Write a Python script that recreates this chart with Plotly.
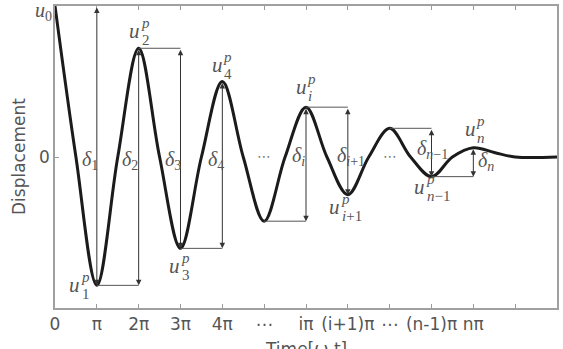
import plotly.graph_objects as go

# ---------------- data (time in multiples of pi, displacement normalised by u0) -------------
time_pi = [0, 0.5, 1, 1.5, 2, 2.5, 3, 3.5, 4, 4.5, 5, 5.5, 6, 6.5, 7, 7.5,
           8, 8.5, 9, 9.5, 10, 10.5, 11, 12]
displacement = [1.0, 0.0, -0.85, 0.0, 0.72, 0.0, -0.605, 0.0, 0.50, 0.0, -0.425, 0.0,
                0.33, 0.0, -0.25, 0.0, 0.19, 0.0, -0.13, 0.0, 0.061, 0.03, 0.0, 0.0]

# extrema (peaks / troughs) at integer multiples of pi
extremum_t = [0, 1, 2, 3, 4, 5, 6, 7, 8, 9, 10]
extremum_u = [1.0, -0.85, 0.72, -0.605, 0.50, -0.425, 0.33, -0.25, 0.19, -0.13, 0.061]

# x-axis ticks
tick_vals = [0, 1, 2, 3, 4, 5, 6, 7, 8, 9, 10, 11]
tick_text = ["0", "π", "2π", "3π", "4π", "⋯", "iπ", "(i+1)π", "⋯", "(n-1)π", "nπ", ""]

# delta arrows: x position (index into extremum), upper level index, lower level index
delta_at = [1, 2, 3, 4, 6, 7, 9, 10]
delta_from = [0, 2, 2, 4, 6, 6, 8, 10]
delta_to = [1, 1, 3, 3, 5, 7, 9, 9]
delta_sub = ["1", "2", "3", "4", "<i>i</i>", "<i>i</i>+1", "<i>n</i>−1", "<i>n</i>"]

# horizontal guide lines: level of extremum k drawn from t_k to t_k + 1
guide_from = [1, 2, 3, 5, 6, 8, 9]

# peak labels u_k^p
peak_idx = [1, 2, 3, 4, 6, 7, 9, 10]
peak_sub = ["1", "2", "3", "4", "<i>i</i>", "<i>i</i>+1", "<i>n</i>−1", "<i>n</i>"]

# ellipsis marks inside the plot (at these extrema times, on the zero line)
dots_at = [5, 8]

# ---------------- styling ----------------
W, H = 563, 349
ML, MR, MT, MB = 55, 5, 4, 41
GRAY = "#555555"
SERIF = "Liberation Serif"
SANS = "DejaVu Sans"

# u-glyph centre relative to extremum point in px (+down)
peak_off = [(-22, 2), (-4, -15), (-6, 20), (-5, -15), (-5, -18), (-13, 14), (-12, 12), (-3, -17)]
# delta label left edge offset relative to arrow x (px) and vertical offset (+down)
delta_off = [(-17, 3), (-19, 3), (-18, 3), (-16, 3), (-16, -1), (-13, -1), (-17, -8), (3, 4)]

fig = go.Figure()
fig.add_trace(go.Scatter(
    x=time_pi, y=displacement, mode="lines",
    line=dict(color="#1b1b1b", width=3, shape="spline", smoothing=1.0),
    hoverinfo="skip", showlegend=False))

annotations = []
shapes = []

# vertical double arrows
for a, f, t in zip(delta_at, delta_from, delta_to):
    annotations.append(dict(
        x=extremum_t[a], y=extremum_u[t], ax=extremum_t[a], ay=extremum_u[f],
        xref="x", yref="y", axref="x", ayref="y", text="", showarrow=True,
        arrowhead=2, startarrowhead=2, arrowside="end+start",
        arrowsize=1.1, startarrowsize=1.1, arrowwidth=1, arrowcolor="#333333"))

# horizontal guides
for k in guide_from:
    shapes.append(dict(type="line", xref="x", yref="y",
                       x0=extremum_t[k], x1=extremum_t[k] + 1,
                       y0=extremum_u[k], y1=extremum_u[k],
                       line=dict(color="#555555", width=1)))

# delta labels
for a, sub, (dx, dy) in zip(delta_at, delta_sub, delta_off):
    annotations.append(dict(
        x=extremum_t[a], y=0, xref="x", yref="y", xanchor="left", yanchor="middle",
        xshift=dx, yshift=-dy, showarrow=False,
        text="<i>δ</i><sub>" + sub + "</sub>",
        font=dict(family=SERIF, size=20, color=GRAY)))

# ellipsis marks
for k in dots_at:
    annotations.append(dict(
        x=extremum_t[k], y=0, xref="x", yref="y", xanchor="center", yanchor="middle",
        yshift=1, showarrow=False, text="⋯",
        font=dict(family=SANS, size=14, color="#777777")))

# peak labels
for k, sub, (dx, dy) in zip(peak_idx, peak_sub, peak_off):
    annotations.append(dict(
        x=extremum_t[k], y=extremum_u[k], xref="x", yref="y",
        xanchor="center", yanchor="middle", xshift=dx, yshift=-(dy - 2),
        showarrow=False, text="<i>u</i>",
        font=dict(family=SERIF, size=21, color=GRAY)))
    annotations.append(dict(
        x=extremum_t[k], y=extremum_u[k], xref="x", yref="y",
        xanchor="left", yanchor="middle", xshift=dx + 4, yshift=-(dy - 10),
        showarrow=False, text="<i>p</i>",
        font=dict(family=SERIF, size=15, color=GRAY)))
    annotations.append(dict(
        x=extremum_t[k], y=extremum_u[k], xref="x", yref="y",
        xanchor="left", yanchor="middle", xshift=dx + 5, yshift=-(dy + 7),
        showarrow=False, text=sub,
        font=dict(family=SERIF, size=15, color=GRAY)))

# u0 label
annotations.append(dict(
    x=0, y=extremum_u[0], xref="paper", yref="y", xanchor="right", yanchor="middle",
    xshift=-1, yshift=-5, showarrow=False, text="<i>u</i><sub>0</sub>",
    font=dict(family=SERIF, size=20, color=GRAY)))

# axis titles
annotations.append(dict(
    x=0, y=0.5, xref="paper", yref="paper", xanchor="center", yanchor="middle",
    xshift=-36, showarrow=False, textangle=-90, text="Displacement",
    font=dict(family=SANS, size=17, color=GRAY)))
annotations.append(dict(
    x=0.5, y=0, xref="paper", yref="paper", xanchor="center", yanchor="top",
    yshift=-29, showarrow=False, text="Time[ω t]",
    font=dict(family=SANS, size=17, color=GRAY)))

fig.update_layout(
    width=W, height=H, margin=dict(l=ML, r=MR, t=MT, b=MB),
    paper_bgcolor="white", plot_bgcolor="white",
    annotations=annotations, shapes=shapes,
    xaxis=dict(range=[0, 12], tickvals=tick_vals, ticktext=tick_text,
               ticks="inside", ticklen=4, tickcolor="#999999",
               mirror="ticks", showline=True, linecolor="#a0a0a0", linewidth=1.5,
               showgrid=False, zeroline=False,
               tickfont=dict(family=SANS, size=17, color=GRAY)),
    yaxis=dict(range=[-1, 1], tickvals=[0], ticktext=["0"],
               ticks="inside", ticklen=4, tickcolor="#999999",
               mirror=True, showline=True, linecolor="#a0a0a0", linewidth=1.5,
               showgrid=False, zeroline=False,
               tickfont=dict(family=SANS, size=17, color=GRAY)),
)

fig.write_html("out.html")
